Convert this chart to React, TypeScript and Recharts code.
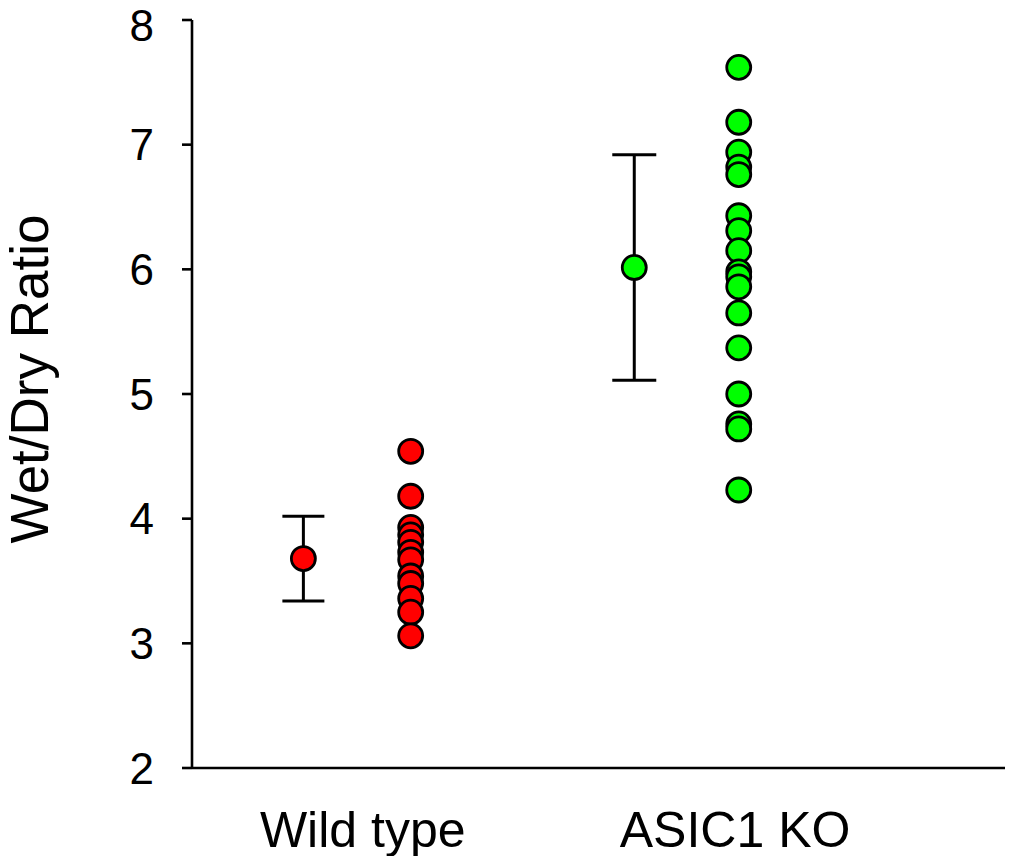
import React from 'react';
import { ScatterChart, Scatter, XAxis, YAxis, ErrorBar, Label } from 'recharts';

const categories = ['Wild type', 'ASIC1 KO'];
const categoryTickPos = [21, 66.8];
const meanPos = [13.7, 54.4];
const pointPos = [26.9, 67.25];
const groupColors = ['#FF0000', '#00FF00'];

const wildTypeValues = [4.54, 4.18, 3.93, 3.87, 3.81, 3.73, 3.67, 3.54, 3.48, 3.36, 3.25, 3.06];
const koValues = [7.62, 7.18, 6.94, 6.82, 6.76, 6.43, 6.31, 6.15, 5.98, 5.94, 5.86, 5.65, 5.37, 5.0, 4.76, 4.72, 4.23];
const groupMeans = [3.68, 6.015];
const groupErrors = [0.34, 0.905];
const yTicks = [2, 3, 4, 5, 6, 7, 8];

const FONT = 'Liberation Sans, Arial, Helvetica, sans-serif';
const Y_TICK_FONT = 44;

const wtPoints = wildTypeValues.map((v) => ({ x: pointPos[0], y: v }));
const koPoints = koValues.map((v) => ({ x: pointPos[1], y: v }));
const wtMean = [{ x: meanPos[0], y: groupMeans[0], err: groupErrors[0] }];
const koMean = [{ x: meanPos[1], y: groupMeans[1], err: groupErrors[1] }];

const makeDot = (fill: string) => (props: any) => {
  const { cx, cy } = props;
  if (cx == null || cy == null) return <g />;
  return <circle cx={cx} cy={cy} r={12} fill={fill} stroke="#000" strokeWidth={2.8} />;
};

const tickName = (v: number) => {
  const i = categoryTickPos.indexOf(v);
  return i >= 0 ? categories[i] : '';
};

const YTick = (props: any) => {
  const { x, y, payload } = props;
  // baseline so that the digit is vertically centred on the tick, kept inside the picture
  const baseline = Math.max(y + Y_TICK_FONT * 0.355, Y_TICK_FONT * 0.93);
  return (
    <text x={x} y={baseline} textAnchor="end" fontSize={Y_TICK_FONT} fontFamily={FONT} fill="#000">
      {payload.value}
    </text>
  );
};

export default function App() {
  return (
    <div style={{ position: 'absolute', left: 0, top: 0, background: '#fff' }}>
      <ScatterChart width={1013} height={856} margin={{ top: 20, right: 8, bottom: 0, left: 0 }}>
        <XAxis
          type="number"
          dataKey="x"
          domain={[0, 100]}
          ticks={categoryTickPos}
          interval={0}
          tickFormatter={tickName}
          tickLine={false}
          tickSize={0}
          tickMargin={43}
          height={88}
          axisLine={{ stroke: '#000', strokeWidth: 2.6 }}
          tick={{ fontSize: 50, fill: '#000', fontFamily: FONT }}
        />
        <YAxis
          type="number"
          dataKey="y"
          domain={[2, 8]}
          ticks={yTicks}
          interval={0}
          width={192}
          tickSize={10}
          tickMargin={28}
          axisLine={{ stroke: '#000', strokeWidth: 2.6 }}
          tickLine={{ stroke: '#000', strokeWidth: 2.6 }}
          tick={<YTick />}
        >
          <Label
            content={(p: any) => {
              const vb = p.viewBox || { x: 0, y: 20, width: 192, height: 748 };
              const cx = vb.x + 48;
              const cy = vb.y + vb.height / 2 - 15;
              return (
                <text
                  transform={`translate(${cx},${cy}) rotate(-90)`}
                  textAnchor="middle"
                  fontSize={53}
                  fontFamily={FONT}
                  fill="#000"
                >
                  Wet/Dry Ratio
                </text>
              );
            }}
          />
        </YAxis>
        <Scatter data={wtMean} isAnimationActive={false} shape={makeDot(groupColors[0])}>
          <ErrorBar dataKey="err" direction="y" width={21} stroke="#000" strokeWidth={3} />
        </Scatter>
        <Scatter data={koMean} isAnimationActive={false} shape={makeDot(groupColors[1])}>
          <ErrorBar dataKey="err" direction="y" width={22} stroke="#000" strokeWidth={3} />
        </Scatter>
        <Scatter data={wtPoints} isAnimationActive={false} shape={makeDot(groupColors[0])} />
        <Scatter data={koPoints} isAnimationActive={false} shape={makeDot(groupColors[1])} />
      </ScatterChart>
    </div>
  );
}
